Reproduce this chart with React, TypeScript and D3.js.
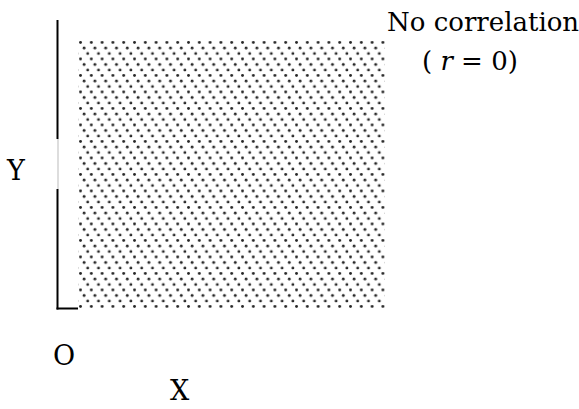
import { useEffect, useRef } from 'react'
import * as d3 from 'd3'

// Chart content
const annotationLines = ['No correlation', '( ', 'r', ' = 0)']
const axisNames = ['X', 'Y']
const originLabel = ['O']
// extent of the uniform scatter (normalised units)
const scatterExtent = [0, 1]

const W = 579
const H = 409

export default function App() {
  const svgRef = useRef<SVGSVGElement | null>(null)

  useEffect(() => {
    if (!svgRef.current) return
    const svg = d3.select(svgRef.current)
    svg.selectAll('*').remove()

    const x = d3.scaleLinear().domain(scatterExtent).range([78, 385])
    const y = d3.scaleLinear().domain(scatterExtent).range([308, 40])

    // halftone-style dot pattern for the scatter cloud
    const defs = svg.append('defs')
    const pat = defs
      .append('pattern')
      .attr('id', 'dots')
      .attr('patternUnits', 'userSpaceOnUse')
      .attr('x', 79)
      .attr('y', 41)
      .attr('width', 10.8)
      .attr('height', 16.5)
    const offsets = [
      [1.5, 1.5],
      [5.1, 7.0],
      [8.7, 12.5],
    ]
    offsets.forEach(([cx, cy]) => {
      pat.append('circle').attr('cx', cx).attr('cy', cy).attr('r', 1.45).attr('fill', '#262626')
    })

    svg
      .append('rect')
      .attr('x', x(0))
      .attr('y', y(1))
      .attr('width', x(1) - x(0))
      .attr('height', y(0) - y(1))
      .attr('fill', 'url(#dots)')

    // axes
    const ax = 57.5
    svg.append('line').attr('x1', ax).attr('x2', ax).attr('y1', 20).attr('y2', 139)
      .attr('stroke', '#000').attr('stroke-width', 2)
    svg.append('line').attr('x1', ax + 0.5).attr('x2', ax + 0.5).attr('y1', 139).attr('y2', 189)
      .attr('stroke', '#bbb').attr('stroke-width', 1)
    svg.append('line').attr('x1', ax).attr('x2', ax).attr('y1', 189).attr('y2', 309.5)
      .attr('stroke', '#000').attr('stroke-width', 2)
    svg.append('line').attr('x1', ax - 1).attr('x2', x(0)).attr('y1', 308.5).attr('y2', 308.5)
      .attr('stroke', '#000').attr('stroke-width', 2)

    const font = '"DejaVu Serif", "Liberation Serif", serif'
    const fs = 27

    const label = (tx: number, ty: number, s: string, size = fs) =>
      svg.append('text').attr('x', tx).attr('y', ty).attr('font-family', font)
        .attr('font-size', size).attr('fill', '#000').text(s)

    label(7, 180, axisNames[1])
    label(53, 365, originLabel[0])
    label(170, 400, axisNames[0])
    label(387, 31, annotationLines[0], 26)

    const t2 = svg.append('text').attr('x', 422).attr('y', 70).attr('font-family', font)
      .attr('font-size', 26).style('white-space', 'pre')
    t2.append('tspan').text(annotationLines[1])
    t2.append('tspan').attr('font-style', 'italic').text(annotationLines[2])
    t2.append('tspan').text(annotationLines[3])
  }, [])

  return (
    <div style={{ position: 'fixed', left: 0, top: 0, width: W, height: H, background: '#fff' }}>
      <svg ref={svgRef} width={W} height={H} />
    </div>
  )
}
